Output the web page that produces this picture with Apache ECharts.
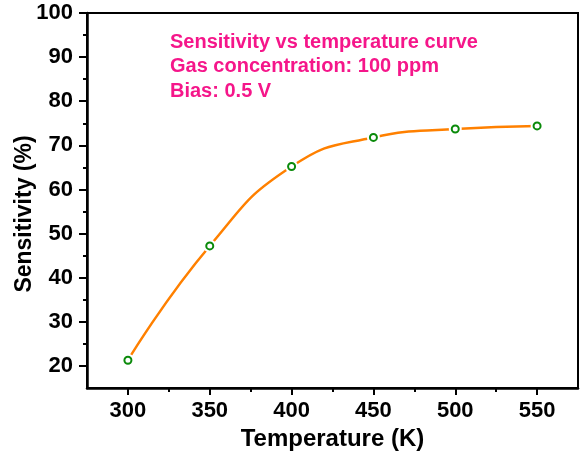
<!DOCTYPE html>
<html>
<head>
<meta charset="utf-8">
<script src="https://cdn.jsdelivr.net/npm/echarts@6/dist/echarts.min.js"></script>
<style>
  html, body { margin: 0; padding: 0; background: #fff; }
  #chart { width: 581px; height: 456px; }
</style>
</head>
<body>
<div id="chart"></div>
<script>
// values
const temperature = [300, 350, 400, 450, 500, 550];
const sensitivity = [21.3, 47.2, 65.2, 71.8, 73.7, 74.4];

const xMajor = [300, 350, 400, 450, 500, 550];
const xMinor = [325, 375, 425, 475, 525];
const yMajor = [20, 30, 40, 50, 60, 70, 80, 90, 100];
const yMinor = [25, 35, 45, 55, 65, 75, 85, 95];

const yTitle = "Sensitivity (%)";
const notes = [
  "Sensitivity vs temperature curve",
  "Gas concentration: 100 ppm",
  "Bias: 0.5 V",
];

const font = "'Liberation Sans', Arial, sans-serif";
const points = temperature.map((t, i) => [t, sensitivity[i]]);

const chart = echarts.init(document.getElementById("chart"));

const option = {
  backgroundColor: "#fff",
  animation: false,
  grid: {
    left: 87,
    top: 13,
    right: 3,
    bottom: 68,
    outerBoundsMode: "none",
    containLabel: false,
    show: true,
    borderColor: "#000",
    borderWidth: 2,
  },
  xAxis: [
    {
      type: "value",
      min: 275,
      max: 575,
      name: "Temperature (K)",
      nameLocation: "middle",
      nameGap: 38,
      nameTextStyle: { fontFamily: font, fontWeight: "bold", fontSize: 24, color: "#000" },
      axisLine: { lineStyle: { color: "#000", width: 2.5 } },
      axisTick: { customValues: xMajor, length: 7, lineStyle: { color: "#000", width: 2 } },
      axisLabel: { customValues: xMajor, margin: 12, fontFamily: font, fontWeight: "bold", fontSize: 22, color: "#000" },
      splitLine: { show: false },
    },
    {
      type: "value",
      min: 275,
      max: 575,
      position: "bottom",
      axisLine: { show: false },
      axisTick: { customValues: xMinor, length: 4, lineStyle: { color: "#000", width: 2 } },
      axisLabel: { show: false },
      splitLine: { show: false },
    },
  ],
  yAxis: [
    {
      type: "value",
      min: 15,
      max: 100,
      axisLine: { show: true, lineStyle: { color: "#000", width: 2.5 } },
      axisTick: { show: true, customValues: yMajor, length: 8, lineStyle: { color: "#000", width: 2 } },
      axisLabel: { customValues: yMajor, margin: 14, fontFamily: font, fontWeight: "bold", fontSize: 22, color: "#000" },
      splitLine: { show: false },
    },
    {
      type: "value",
      min: 15,
      max: 100,
      position: "left",
      axisLine: { show: false },
      axisTick: { show: true, customValues: yMinor, length: 4, lineStyle: { color: "#000", width: 2 } },
      axisLabel: { show: false },
      splitLine: { show: false },
    },
  ],
  graphic: [
    // y title sits a bit below the plot middle in the original
    {
      type: "text",
      x: 25,
      y: 214,
      rotation: Math.PI / 2,
      style: {
        text: yTitle,
        fill: "#000",
        font: "bold 23px " + font,
        textAlign: "center",
        textVerticalAlign: "middle",
      },
    },
  ].concat(notes.map((t, i) => ({
    type: "text",
    left: 170,
    top: 32 + i * 24.5,
    style: {
      text: t,
      fill: "#f5168a",
      font: "bold 20px " + font,
    },
  }))),
  series: [
    {
      type: "line",
      data: points,
      smooth: 0.5,
      showSymbol: false,
      lineStyle: { color: "#ff8000", width: 2.5 },
      z: 2,
    },
    {
      // white halo so the curve stops short of each marker
      type: "scatter",
      data: points,
      symbol: "circle",
      symbolSize: 13,
      itemStyle: { color: "#fff", opacity: 1 },
      z: 3,
    },
    {
      type: "scatter",
      data: points,
      symbol: "circle",
      symbolSize: 7,
      itemStyle: { color: "#fff", borderColor: "#0a8a0a", borderWidth: 2, opacity: 1 },
      z: 4,
    },
  ],
};

option && chart.setOption(option, true);
</script>
</body>
</html>
